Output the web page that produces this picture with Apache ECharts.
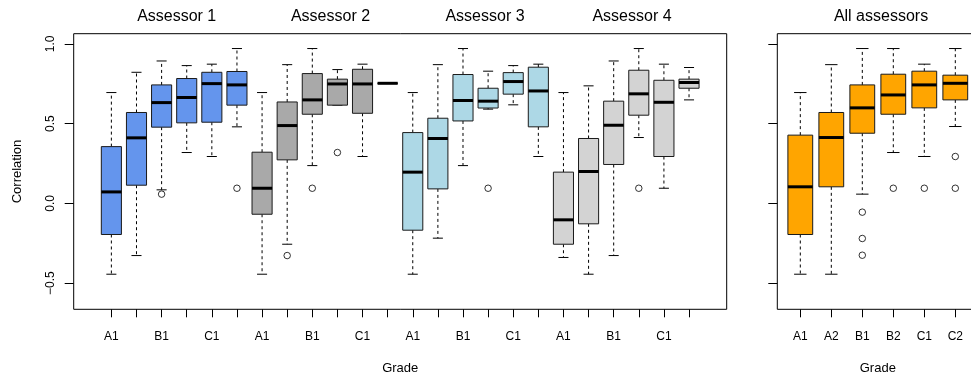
<!DOCTYPE html>
<html><head><meta charset="utf-8">
<script src="https://cdn.jsdelivr.net/npm/echarts@6/dist/echarts.min.js"></script>
<style>html,body{margin:0;padding:0;background:#fff}#c{width:971px;height:374px}</style>
</head><body><div id="c"></div>
<script>
// ---- data ----
const grades = ['A1', 'A2', 'B1', 'B2', 'C1', 'C2'];
const assessorNames = ['Assessor 1', 'Assessor 2', 'Assessor 3', 'Assessor 4'];
const allTitle = 'All assessors';
const yTicks = [-0.5, 0, 0.5, 1.0];
const yTickLabels = ['\u22120.5', '0.0', '0.5', '1.0'];
const assessorColors = ['#6495ED', '#A9A9A9', '#ADD8E6', '#D3D3D3'];
const allColor = '#FFA500';

// [lower whisker, Q1, median, Q3, upper whisker] per grade
const assessor1Box = [
  [-0.444, -0.195, 0.072, 0.356, 0.695],
  [-0.327, 0.114, 0.411, 0.570, 0.822],
  [0.085, 0.478, 0.632, 0.743, 0.893],
  [0.319, 0.505, 0.664, 0.783, 0.864],
  [0.294, 0.509, 0.751, 0.822, 0.873],
  [0.480, 0.616, 0.743, 0.827, 0.971]
];
const assessor2Box = [
  [-0.444, -0.068, 0.095, 0.321, 0.695],
  [-0.256, 0.273, 0.488, 0.636, 0.870],
  [0.237, 0.559, 0.649, 0.814, 0.971],
  [0.616, 0.616, 0.749, 0.779, 0.839],
  [0.294, 0.565, 0.749, 0.841, 0.873],
  [0.753, 0.753, 0.753, 0.753, 0.753]
];
const assessor3Box = [
  [-0.444, -0.168, 0.196, 0.444, 0.695],
  [-0.218, 0.091, 0.407, 0.534, 0.870],
  [0.237, 0.517, 0.645, 0.808, 0.971],
  [0.591, 0.598, 0.641, 0.722, 0.829],
  [0.618, 0.685, 0.764, 0.820, 0.864],
  [0.294, 0.480, 0.705, 0.854, 0.873]
];
const assessor4Box = [
  [-0.339, -0.256, -0.103, 0.196, 0.695],
  [-0.444, -0.128, 0.200, 0.407, 0.737],
  [-0.327, 0.244, 0.490, 0.641, 0.893],
  [0.413, 0.553, 0.687, 0.835, 0.971],
  [0.095, 0.294, 0.634, 0.772, 0.873],
  [0.649, 0.722, 0.758, 0.779, 0.852]
];
const allBox = [
  [-0.444, -0.195, 0.104, 0.428, 0.695],
  [-0.444, 0.104, 0.413, 0.570, 0.870],
  [0.058, 0.440, 0.599, 0.743, 0.971],
  [0.319, 0.559, 0.680, 0.810, 0.971],
  [0.294, 0.599, 0.743, 0.829, 0.873],
  [0.482, 0.649, 0.753, 0.804, 0.971]
];
// outliers: [grade index, value]
const assessor1Outliers = [[2, 0.058], [5, 0.095]];
const assessor2Outliers = [[1, -0.327], [2, 0.095], [3, 0.319]];
const assessor3Outliers = [[3, 0.095]];
const assessor4Outliers = [[3, 0.095]];
const allOutliers = [[2, -0.055], [2, -0.220], [2, -0.325], [3, 0.095], [4, 0.095], [5, 0.294], [5, 0.095]];

// ---- chart ----
const boxes = [assessor1Box, assessor2Box, assessor3Box, assessor4Box];
const outs = [assessor1Outliers, assessor2Outliers, assessor3Outliers, assessor4Outliers];
const FONT = '"Liberation Sans", Arial, Helvetica, sans-serif';
const Y_MIN = -0.664, Y_MAX = 1.064;

const leftCats = [''];
assessorNames.forEach(() => grades.forEach(g => leftCats.push(g)));
leftCats.push('');

function boxRenderer(fill) {
  return function (params, api) {
    const x = api.value(0);
    const pLow = api.coord([x, api.value(1)]);
    const pQ1 = api.coord([x, api.value(2)]);
    const pMed = api.coord([x, api.value(3)]);
    const pQ3 = api.coord([x, api.value(4)]);
    const pHigh = api.coord([x, api.value(5)]);
    const band = api.size([1, 0])[0];
    const bw = band * 0.8, cw = band * 0.4;
    const cx = pMed[0];
    const dash = { stroke: '#000', lineWidth: 1, lineDash: [3, 3], fill: null };
    const solid = { stroke: '#000', lineWidth: 1, fill: null };
    return {
      type: 'group', children: [
        { type: 'line', shape: { x1: cx, y1: pQ3[1], x2: cx, y2: pHigh[1] }, style: dash },
        { type: 'line', shape: { x1: cx, y1: pQ1[1], x2: cx, y2: pLow[1] }, style: dash },
        { type: 'line', shape: { x1: cx - cw / 2, y1: pHigh[1], x2: cx + cw / 2, y2: pHigh[1] }, style: solid },
        { type: 'line', shape: { x1: cx - cw / 2, y1: pLow[1], x2: cx + cw / 2, y2: pLow[1] }, style: solid },
        { type: 'rect', shape: { x: cx - bw / 2, y: pQ3[1], width: bw, height: pQ1[1] - pQ3[1] },
          style: { fill: fill, stroke: '#1a1a1a', lineWidth: 1 } },
        { type: 'line', shape: { x1: cx - bw / 2, y1: pMed[1], x2: cx + bw / 2, y2: pMed[1] },
          style: { stroke: '#000', lineWidth: 3, fill: null } }
      ]
    };
  };
}

const yAxisCommon = {
  type: 'value', min: Y_MIN, max: Y_MAX,
  splitLine: { show: false }, axisLine: { show: false, onZero: false }
};

const series = [];
boxes.forEach((bx, k) => {
  series.push({
    type: 'custom', xAxisIndex: 0, yAxisIndex: 0, silent: true,
    renderItem: boxRenderer(assessorColors[k]),
    encode: { x: 0, y: [1, 2, 3, 4, 5] },
    data: bx.map((b, g) => [1 + 6 * k + g].concat(b))
  });
  series.push({
    type: 'scatter', xAxisIndex: 0, yAxisIndex: 0, silent: true,
    symbol: 'circle', symbolSize: 6.5,
    itemStyle: { color: 'rgba(0,0,0,0)', borderColor: '#000', borderWidth: 1 },
    data: outs[k].map(o => [1 + 6 * k + o[0], o[1]])
  });
});
series.push({
  type: 'custom', xAxisIndex: 1, yAxisIndex: 1, silent: true,
  renderItem: boxRenderer(allColor),
  encode: { x: 0, y: [1, 2, 3, 4, 5] },
  data: allBox.map((b, g) => [g].concat(b))
});
series.push({
  type: 'scatter', xAxisIndex: 1, yAxisIndex: 1, silent: true,
  symbol: 'circle', symbolSize: 6.5,
  itemStyle: { color: 'rgba(0,0,0,0)', borderColor: '#000', borderWidth: 1 },
  data: allOutliers.map(o => [o[0], o[1]])
});

const titleCenters = [171.7, 325.5, 480, 627];
const titles = assessorNames.map((n, i) => ({
  text: n, left: titleCenters[i], top: 4, textAlign: 'center',
  textStyle: { fontFamily: FONT, fontSize: 16, fontWeight: 'normal', color: '#000' }
}));
titles.push({
  text: allTitle, left: 876, top: 4, textAlign: 'center',
  textStyle: { fontFamily: FONT, fontSize: 16, fontWeight: 'normal', color: '#000' }
});

const gridCommon = { outerBoundsMode: 'none', containLabel: false, backgroundColor: 'transparent', borderColor: '#000', borderWidth: 1 };

const chart = echarts.init(document.getElementById('c'), null, { renderer: 'canvas' });
chart.setOption({
  backgroundColor: '#fff',
  animation: false,
  title: titles,
  grid: [
    Object.assign({}, gridCommon, { left: 73.7, top: 33.7, width: 653, height: 275.6, show: true }),
    Object.assign({}, gridCommon, { left: 784.8, top: 33.7, width: 186, height: 275.6, show: false }),
    Object.assign({}, gridCommon, { left: 777.3, top: 33.7, width: 200.9, height: 275.6, show: true })
  ],
  xAxis: [
    {
      type: 'category', gridIndex: 0, data: leftCats, boundaryGap: true, position: 'bottom',
      axisLine: { show: false, onZero: false },
      axisTick: { show: true, alignWithLabel: true, length: 8, lineStyle: { color: '#000' },
        interval: (i) => i >= 1 && i <= 24 },
      axisLabel: { show: true, margin: 21, fontFamily: FONT, fontSize: 12, color: '#000',
        interval: (i) => i >= 1 && i <= 24 && (i - 1) % 2 === 0 },
      name: 'Grade', nameLocation: 'middle', nameGap: 53,
      nameTextStyle: { fontFamily: FONT, fontSize: 13, color: '#000' },
      splitLine: { show: false }
    },
    {
      type: 'category', gridIndex: 1, data: grades, boundaryGap: true, position: 'bottom',
      axisLine: { show: false, onZero: false },
      axisTick: { show: true, alignWithLabel: true, length: 8, lineStyle: { color: '#000' }, interval: 0 },
      axisLabel: { show: true, margin: 21, fontFamily: FONT, fontSize: 12, color: '#000', interval: 0 },
      name: 'Grade', nameLocation: 'middle', nameGap: 53,
      nameTextStyle: { fontFamily: FONT, fontSize: 13, color: '#000' },
      splitLine: { show: false }
    },
    { type: 'value', gridIndex: 2, show: false, min: 0, max: 1, axisLine: { onZero: false } }
  ],
  yAxis: [
    Object.assign({}, yAxisCommon, {
      gridIndex: 0,
      axisTick: { show: true, length: 9, lineStyle: { color: '#000' }, customValues: yTicks },
      axisLabel: { show: true, rotate: 90, margin: 17, fontFamily: FONT, fontSize: 12, color: '#000',
        customValues: yTicks, formatter: (v) => { const i = yTicks.findIndex(t => Math.abs(t - v) < 1e-9); return i >= 0 ? yTickLabels[i] : ''; } },
      name: 'Correlation', nameLocation: 'middle', nameGap: 50,
      nameTextStyle: { fontFamily: FONT, fontSize: 13, color: '#000' }
    }),
    Object.assign({}, yAxisCommon, { gridIndex: 1, show: false }),
    Object.assign({}, yAxisCommon, {
      gridIndex: 2,
      axisTick: { show: true, length: 9, lineStyle: { color: '#000' }, customValues: yTicks },
      axisLabel: { show: false }
    })
  ],
  series: series
});
</script>
</body></html>
